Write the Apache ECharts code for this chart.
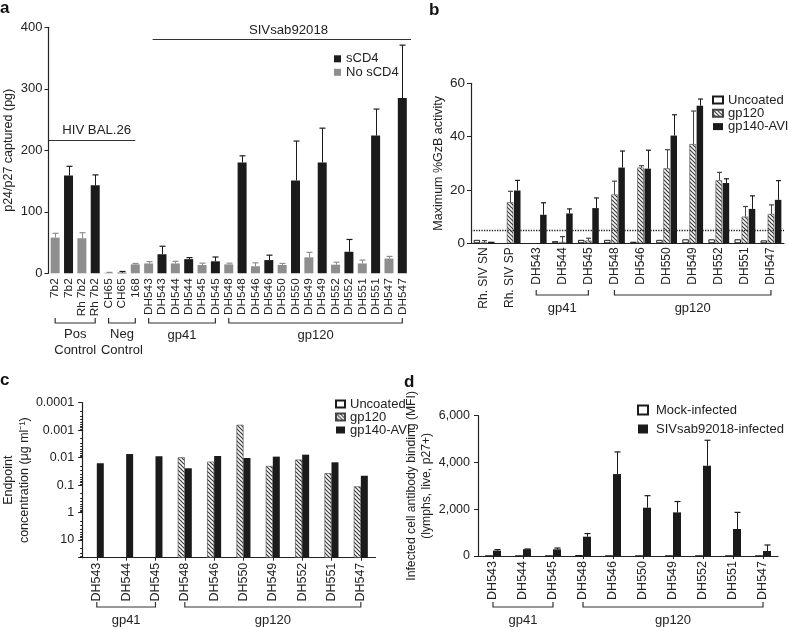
<!DOCTYPE html>
<html><head><meta charset="utf-8">
<script src="https://cdn.jsdelivr.net/npm/echarts@6/dist/echarts.min.js"></script>
<style>html,body{margin:0;padding:0;background:#fff}#c{width:788px;height:627px}</style>
</head><body><div id="c"></div>
<script>
// ---------- Panel a ----------
const catsA = ['7b2','7b2','Rh 7b2','Rh 7b2','CH65','CH65','168','DH543','DH543','DH544','DH544','DH545','DH545','DH548','DH548','DH546','DH546','DH550','DH550','DH549','DH549','DH552','DH552','DH551','DH551','DH547','DH547'];
const sCD4   = [null,159,null,143,null,1,null,null,31,null,23,null,19.5,null,180,null,21.5,null,151,null,180,null,35,null,224,null,285];
const sCD4Err= [null,174,null,160,null,3,null,null,44,null,25.5,null,26.5,null,191,null,29.5,null,215,null,236,null,55,null,267,null,371];
const noCD4  = [58,null,57,null,0.8,null,14.5,16,null,16,null,13.5,null,14.5,null,11.5,null,13.5,null,26,null,14,null,16,null,24,null];
const noCD4Err=[65,null,66,null,1.5,null,16,19,null,19.5,null,16.5,null,16.5,null,17,null,16,null,34,null,18,null,21.5,null,27.5,null];
const ticksA = [0,100,200,300,400];

// ---------- Panel b ----------
const catsB = ['Rh. SIV SN','Rh. SIV SP','DH543','DH544','DH545','DH548','DH546','DH550','DH549','DH552','DH551','DH547'];
const uncoatedB = [1.3,null,null,0.8,1.3,1.3,0.6,1.3,1.5,1.5,1.5,1.1];
const gp120B    = [0.3,15.4,null,0.5,1.0,18.3,28.4,28.1,37.2,23.6,10,11];
const gp120BErr = [1.0,19.5,null,2.5,1.9,23.3,29.1,35.1,49.6,26.6,13.8,14.4];
const gp140B    = [0.6,19.8,10.7,11.2,13.2,28.4,28,40.4,51.6,22.6,12.9,16.3];
const gp140BErr = [null,23.6,15.2,12.9,17,34.6,34.9,48.2,54.1,24.2,17.8,23.5];
const thresholdB = 5;

// ---------- Panel c ----------
const catsC = ['DH543','DH544','DH545','DH548','DH546','DH550','DH549','DH552','DH551','DH547'];
const gp120C = [null,null,null,0.0097,0.014,0.00064,0.0201,0.0118,0.037,0.112];
const gp140C = [0.016,0.0074,0.0089,0.0244,0.0087,0.0103,0.0092,0.0078,0.0148,0.0457];
const tickLabelsC = ['0.0001','0.001','0.01','0.1','1','10'];
const axisMinC = 0.0001, axisMaxC = 44;

// ---------- Panel d ----------
const catsD = ['DH543','DH544','DH545','DH548','DH546','DH550','DH549','DH552','DH551','DH547'];
const mockD = [10,10,10,20,10,10,10,10,10,10];
const infD  = [230,290,285,826,3504,2065,1866,3860,1154,214];
const infDErr=[275,300,340,960,4450,2580,2330,4950,1866,470];

// ---------- style ----------
const FONT = "'Liberation Sans', Arial, Helvetica, sans-serif";
const TXT = '#222';
const BLACK = '#1b1b1b', GRAY = '#8e8e8e';

function hatch(){
  const c=document.createElement('canvas'); c.width=c.height=4;
  const g=c.getContext('2d'); g.fillStyle='#fff'; g.fillRect(0,0,4,4);
  g.strokeStyle='#3a3a3a'; g.lineWidth=1.2; g.beginPath();
  g.moveTo(-1,-1); g.lineTo(5,5); g.moveTo(-1,3); g.lineTo(1,5); g.moveTo(3,-1); g.lineTo(5,1);
  g.stroke(); return c;
}
const HATCH = {image: hatch(), repeat:'repeat'};

function errSeries(xi, yi, vals, errs, offset, color, cap){
  const data=[];
  vals.forEach((v,i)=>{ if(v!=null && errs[i]!=null) data.push([i,v,errs[i]]); });
  return {type:'custom', xAxisIndex:xi, yAxisIndex:yi, data, z:5, silent:true,
    encode:{x:0,y:[1,2]},
    renderItem(params, api){
      const p1=api.coord([api.value(0),api.value(1)]);
      const p2=api.coord([api.value(0),api.value(2)]);
      const x=Math.round(p1[0]+offset)+0.5;
      return {type:'group',children:[
        {type:'line',shape:{x1:x,y1:p1[1],x2:x,y2:p2[1]},style:{stroke:color,lineWidth:1}},
        {type:'line',shape:{x1:x-cap,y1:p2[1],x2:x+cap,y2:p2[1]},style:{stroke:color,lineWidth:1.2}}
      ]};
    }};
}

const axLine = {show:true, lineStyle:{color:TXT, width:1.2}};
function yAx(gi, extra){ return Object.assign({gridIndex:gi, type:'value', axisLine:axLine,
  axisTick:{show:true,length:4,lineStyle:{color:TXT}}, splitLine:{show:false},
  axisLabel:{color:TXT,fontSize:13,fontFamily:FONT,margin:6},
  nameLocation:'middle', nameTextStyle:{color:TXT,fontSize:12.5,fontFamily:FONT,lineHeight:15.5}}, extra); }
function xAx(gi, cats, extra){ return Object.assign({gridIndex:gi, type:'category', data:cats,
  axisLine:axLine, axisTick:{show:true,alignWithLabel:true,length:3,lineStyle:{color:TXT}},
  axisLabel:{rotate:90, interval:0, color:TXT, fontSize:12, fontFamily:FONT, margin:4}}, extra); }

const chart = echarts.init(document.getElementById('c'), null, {renderer:'canvas'});
const legText = {color:TXT,fontSize:13,fontFamily:FONT};

const option = {
  animation:false,
  textStyle:{fontFamily:FONT},
  grid:[
    {left:48, top:27.3, width:361, height:246},
    {left:471, top:83.3, width:313, height:160},
    {left:77.5, top:402.7, width:298, height:155},
    {left:478, top:415.7, width:300, height:140.3}
  ],
  xAxis:[
    xAx(0, catsA, {axisLine:{show:false}, axisTick:{show:false}, axisLabel:{rotate:90,interval:0,color:TXT,fontSize:11.8,fontFamily:FONT,margin:5}}),
    xAx(1, catsB, {axisTick:{show:false}}),
    xAx(2, catsC, {axisLabel:{rotate:90,interval:0,color:TXT,fontSize:12.5,fontFamily:FONT,margin:5}}),
    xAx(3, catsD, {axisLabel:{rotate:90,interval:0,color:TXT,fontSize:12.5,fontFamily:FONT,margin:5}})
  ],
  yAxis:[
    yAx(0,{min:ticksA[0],max:ticksA[ticksA.length-1],interval:100,name:'p24/p27 captured (pg)',nameGap:32}),
    yAx(1,{min:0,max:60,interval:20,name:'Maximum %GzB activity',nameGap:24,
      axisLabel:{color:TXT,fontSize:13.5,fontFamily:FONT,margin:6}}),
    yAx(2,{type:'log',logBase:10,inverse:true,min:axisMinC,max:axisMaxC,startValue:axisMaxC,
      name:'Endpoint\nconcentration (μg ml⁻¹)',nameGap:47,
      minorTick:{show:true,splitNumber:9,length:2,lineStyle:{color:TXT}},
      axisLabel:{color:TXT,fontSize:12.5,fontFamily:FONT,margin:8,
        formatter:v=>{const l=Math.log10(v),e=Math.round(l);return Math.abs(l-e)<1e-6?(tickLabelsC[e+4]||''):'';}}}),
    yAx(3,{min:0,max:6000,interval:2000,name:'Infected cell antibody binding (MFI)\n(lymphs, live, p27+)',nameGap:41,
      nameTextStyle:{color:TXT,fontSize:12.2,fontFamily:FONT,lineHeight:15.5},
      axisLabel:{color:TXT,fontSize:12.5,fontFamily:FONT,margin:8,formatter:v=>v.toLocaleString('en-US')}})
  ],
  legend:[
    {left:334,top:52.3,orient:'vertical',icon:'rect',itemWidth:7,itemHeight:7,itemGap:0.5,padding:0,selectedMode:false,
      data:['sCD4','No sCD4'],textStyle:Object.assign({lineHeight:12},legText)},
    {left:712,top:93.5,orient:'vertical',icon:'rect',itemWidth:10,itemHeight:7,itemGap:0.3,padding:0,selectedMode:false,
      data:['Uncoated','gp120','gp140-AVI'],textStyle:Object.assign({lineHeight:13},legText)},
    {left:335,top:397.5,orient:'vertical',icon:'rect',itemWidth:9,itemHeight:7,itemGap:0,padding:0,selectedMode:false,
      data:['Uncoated','gp120','gp140-AVI'],textStyle:Object.assign({lineHeight:13},legText)},
    {left:637,top:403,orient:'vertical',icon:'rect',itemWidth:10,itemHeight:9,itemGap:5,padding:0,selectedMode:false,
      data:['Mock-infected','SIVsab92018-infected'],textStyle:Object.assign({lineHeight:14,padding:[0,0,0,3]},legText)}
  ],
  series:[
    {name:'sCD4',type:'bar',xAxisIndex:0,yAxisIndex:0,data:sCD4,barWidth:9,barGap:'-100%',itemStyle:{color:BLACK}},
    {name:'No sCD4',type:'bar',xAxisIndex:0,yAxisIndex:0,data:noCD4,barWidth:9,barGap:'-100%',itemStyle:{color:GRAY}},
    errSeries(0,0,sCD4,sCD4Err,0,BLACK,3),
    errSeries(0,0,noCD4,noCD4Err,0,GRAY,3),

    {name:'Uncoated',type:'bar',xAxisIndex:1,yAxisIndex:1,data:uncoatedB,barWidth:6.5,barGap:'10%',
      itemStyle:{color:'#fff',borderColor:BLACK,borderWidth:1}},
    {name:'gp120',type:'bar',xAxisIndex:1,yAxisIndex:1,data:gp120B,barWidth:6.5,barGap:'10%',
      itemStyle:{color:HATCH,borderColor:'#444',borderWidth:0.6}},
    {name:'gp140-AVI',type:'bar',xAxisIndex:1,yAxisIndex:1,data:gp140B,barWidth:6.5,barGap:'10%',
      itemStyle:{color:BLACK},
      markLine:{silent:true,symbol:['none','none'],label:{show:false},
        lineStyle:{type:'dotted',color:TXT,width:1.3},data:[{yAxis:thresholdB}]}},
    errSeries(1,1,gp120B,gp120BErr,0,'#444',2.5),
    errSeries(1,1,gp140B,gp140BErr,7.15,BLACK,2.5),

    {name:'gp120',type:'bar',xAxisIndex:2,yAxisIndex:2,data:gp120C,barWidth:7,barGap:'0%',
      itemStyle:{color:HATCH,borderColor:'#444',borderWidth:0.6}},
    {name:'gp140-AVI',type:'bar',xAxisIndex:2,yAxisIndex:2,data:gp140C,barWidth:7,barGap:'0%',
      itemStyle:{color:BLACK}},

    {name:'Mock-infected',type:'bar',xAxisIndex:3,yAxisIndex:3,data:mockD,barWidth:8,barGap:'0%',
      itemStyle:{color:'#fff',borderColor:BLACK,borderWidth:1.5}},
    {name:'SIVsab92018-infected',type:'bar',xAxisIndex:3,yAxisIndex:3,data:infD,barWidth:8,barGap:'0%',
      itemStyle:{color:BLACK}},
    errSeries(3,3,infD,infDErr,4,BLACK,3)
  ]
};
chart.setOption(option);

// ---------- annotations (brackets, group labels, panel letters) ----------
function px(xi, idx){ return chart.convertToPixel({xAxisIndex:xi}, idx); }
const G = [];
function txt(text,x,y,opt){ G.push({type:'text',silent:true,style:Object.assign({text,x,y,fill:TXT,fontSize:13,fontFamily:FONT,align:'center',verticalAlign:'middle'},opt||{})}); }
function bracket(xi,i0,i1,y,label,ly,lh){
  const x1=px(xi,i0), x2=px(xi,i1);
  G.push({type:'polyline',silent:true,shape:{points:[[x1,y-5],[x1,y],[x2,y],[x2,y-5]]},style:{stroke:'#333',lineWidth:1.2,fill:null}});
  txt(label,(x1+x2)/2,ly,lh?{lineHeight:lh,verticalAlign:'top'}:{});
}
// panel a
bracket(0,0,3,323,'Pos\nControl',327,15.5);
bracket(0,4,6,323,'Neg\nControl',327,15.5);
bracket(0,7,12,323,'gp41',335);
bracket(0,13,26,323,'gp120',335);
const aL = 48, hivEnd = px(0,6), sivStart = px(0,7)+4, aR = 411;
G.push({type:'line',silent:true,shape:{x1:aL,y1:140.5,x2:hivEnd,y2:140.5},style:{stroke:'#333',lineWidth:1.2}});
txt('HIV BAL.26',(aL+hivEnd)/2+5,130.5,{fontSize:13.2});
G.push({type:'line',silent:true,shape:{x1:sivStart,y1:39.5,x2:aR,y2:39.5},style:{stroke:'#333',lineWidth:1.2}});
txt('SIVsab92018',288.5,30.5,{fontSize:13.2});
// panel b
bracket(1,2,4,295,'gp41',308);
bracket(1,5,11,295,'gp120',308);
// panel c
bracket(2,0,2,607,'gp41',620);
bracket(2,3,9,607,'gp120',620);
// panel d
bracket(3,0,2,607,'gp41',620);
bracket(3,3,9,607,'gp120',620);
// panel letters
const letter = {fontSize:17,fontWeight:'bold',align:'left',fill:'#111'};
txt('a',0,8,letter); txt('b',429,10.7,letter); txt('c',0,380.7,letter); txt('d',404,382.3,letter);
chart.setOption({graphic:G});
</script>
</body></html>
